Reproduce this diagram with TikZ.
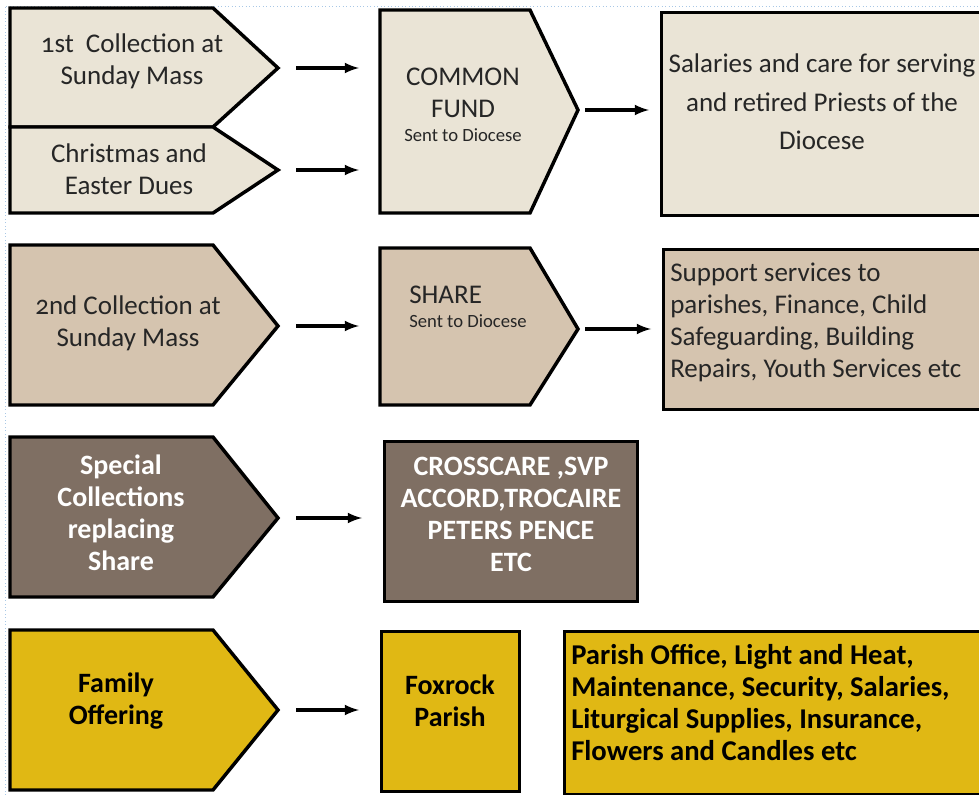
\documentclass[tikz,border=0pt]{standalone}
\usepackage{fontspec}
\setmainfont{Carlito}
\usepackage{tikz}
\tikzset{>=latex}
\definecolor{commonfill}{HTML}{EAE4D6}
\definecolor{sharefill}{HTML}{D5C4AF}
\definecolor{specialfill}{HTML}{7F6F63}
\definecolor{parishfill}{HTML}{E0B814}
\definecolor{guideblue}{HTML}{A9C8E6}
\tikzstyle{card}       = [draw=black, line width=2.6pt, line join=miter]
\tikzstyle{arrow}      = [->, line width=2.6pt, shorten <=13.5pt, shorten >=15.75pt]
\tikzstyle{shortarrow} = [->, line width=2.6pt, shorten <=5.25pt, shorten >=8.25pt]
\tikzstyle{guide}      = [draw=guideblue, dotted, line width=0.6pt]
\tikzstyle{cardtext}   = [inner sep=0pt, align=center, text=black!85,
                          font=\fontsize{20.25pt}{24pt}\selectfont]
\tikzstyle{boldtext}   = [inner sep=0pt, align=center, text=black,
                          font=\bfseries\fontsize{21pt}{24pt}\selectfont]
\newcommand{\smallnote}{\fontsize{14pt}{17pt}\selectfont}
\newcommand{\oldfig}[1]{{\addfontfeatures{Numbers=OldStyle}#1}}

\begin{document}
\begin{tikzpicture}[x=0.75pt, y=-0.75pt]
  \useasboundingbox (0,0) rectangle (979,795);

  % Page guides
  \draw[guide] (5,795) -- (5,6) -- (979,6);

  % Tips and corners
  \coordinate (firsttip)   at (278,68);
  \coordinate (duestip)    at (278,170);
  \coordinate (fund)       at (380,10);
  \coordinate (fundtip)    at (578,110);
  \coordinate (secondtip)  at (278,326);
  \coordinate (share)      at (380,248);
  \coordinate (sharetip)   at (578,329);
  \coordinate (specialtip) at (278,518);
  \coordinate (familytip)  at (278,710);

  % Arrow shapes
  \draw[card, fill=commonfill] (10,8) -- (213,8) -- (firsttip) -- (213,127) -- (10,127) -- cycle;
  \draw[card, fill=commonfill] (10,127) -- (213,127) -- (duestip) -- (213,213) -- (10,213) -- cycle;
  \draw[card, fill=commonfill] (fund) -- (530,10) -- (fundtip) -- (530,213) -- (380,213) -- cycle;
  \draw[card, fill=sharefill] (10,245) -- (213,245) -- (secondtip) -- (213,405) -- (10,405) -- cycle;
  \draw[card, fill=sharefill] (share) -- (530,248) -- (sharetip) -- (530,405) -- (380,405) -- cycle;
  \draw[card, fill=specialfill] (10,437) -- (213,437) -- (specialtip) -- (213,597) -- (10,597) -- cycle;
  \draw[card, fill=parishfill] (10,630) -- (213,630) -- (familytip) -- (213,790) -- (10,790) -- cycle;

  % Boxes
  \node[card, fill=commonfill, anchor=north west, minimum width=247.5pt,
    minimum height=152.25pt] (costs) at (660,11) {};
  \node[card, fill=sharefill, anchor=north west, minimum width=246pt,
    minimum height=120pt] (services) at (662,248) {};
  \node[card, fill=specialfill, anchor=north west, minimum width=189.75pt,
    minimum height=120pt] (charities) at (383,440) {};
  \node[card, fill=parishfill, anchor=north west, minimum width=103.5pt,
    minimum height=120pt] (foxrock) at (380,630) {};
  \node[card, fill=parishfill, anchor=north west, minimum width=320.25pt,
    minimum height=122.25pt] (running) at (563,630) {};

  % Texts (placed at the baseline of their last line)
  \node[cardtext, anchor=base] (first) at (132,85) {\oldfig{1st}~ Collection at\\Sunday Mass};
  \node[cardtext, anchor=base] (dues) at (129,195) {Christmas and\\Easter Dues};
  \node[cardtext, anchor=base] (fundtext) at (463,142)
    {COMMON\\FUND\\[-6pt]{\smallnote Sent to Diocese}};
  \node[cardtext, anchor=base, font=\fontsize{20.25pt}{28.9pt}\selectfont] (coststext) at (822,150)
    {Salaries and care for serving\\and retired Priests of the\\Diocese};
  \node[cardtext, anchor=base] (second) at (128,346) {\oldfig{2nd} Collection at\\Sunday Mass};
  \node[cardtext, align=left, anchor=base west] (sharetext) at (409,327)
    {SHARE\\[-6pt]{\smallnote Sent to Diocese}};
  \node[cardtext, align=left, anchor=base west] (servicestext) at (670,377)
    {Support services to\\parishes, Finance, Child\\Safeguarding, Building\\Repairs, Youth Services etc};
  \node[boldtext, text=white, anchor=base] (special) at (121,570)
    {Special\\Collections\\replacing\\Share};
  \node[boldtext, text=white, anchor=base] (charitytext) at (511,571)
    {CROSSCARE ,SVP\\ACCORD,TROCAIRE\\PETERS PENCE\\ETC};
  \node[boldtext, anchor=base] (family) at (116,724) {Family\\Offering};
  \node[boldtext, anchor=base] (foxrocktext) at (450,726) {Foxrock\\Parish};
  \node[boldtext, align=left, anchor=base west, font=\bfseries\fontsize{21.5pt}{23.8pt}\selectfont]
    (runningtext) at (571,760)
    {Parish Office, Light and Heat,\\Maintenance, Security, Salaries,\\Liturgical Supplies, Insurance,\\Flowers and Candles etc};

  % Edges
  \draw[arrow] (firsttip) -- (firsttip -| fund);
  \draw[arrow] (duestip) -- (duestip -| fund);
  \draw[shortarrow] (fundtip) -- (fundtip -| costs.west);
  \draw[arrow] (secondtip) -- (secondtip -| share);
  \draw[shortarrow] (sharetip) -- (sharetip -| services.west);
  \draw[arrow] (specialtip) -- (specialtip -| charities.west);
  \draw[arrow] (familytip) -- (familytip -| foxrock.west);

\end{tikzpicture}
\end{document}
